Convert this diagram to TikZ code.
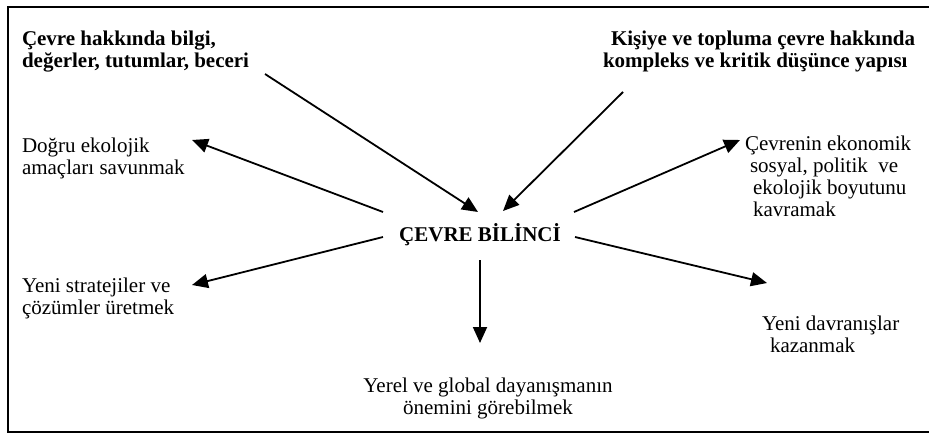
\documentclass[tikz,border=0pt]{standalone}
\usepackage{fontspec}
\setmainfont{Liberation Serif}
\usetikzlibrary{arrows.meta}
\begin{document}
\begin{tikzpicture}[x=1pt,y=-1pt,
  txt/.style={inner sep=0pt,outer sep=0pt,font=\fontsize{21}{22}\selectfont,align=left},
  btxt/.style={txt,font=\fontsize{21}{22}\selectfont\bfseries},
  arr/.style={line width=1.8pt,-{Triangle[length=16pt,width=14pt]}},
  frame/.style={line width=2.3pt}]
\useasboundingbox (0,0) rectangle (929,434);
\draw[frame] (929,7) -- (8,7) -- (8,432) -- (929,432);
% texts (base anchor = baseline of the last line)
\node[btxt,anchor=base west] (k1) at (22,67) {Çevre hakkında bilgi,\\değerler, tutumlar, beceri};
\node[btxt,anchor=base west] (k2) at (603,67) {\hspace*{8pt}Kişiye ve topluma çevre hakkında\\kompleks ve kritik düşünce yapısı};
\node[txt,anchor=base west] (d1) at (22,174) {Doğru ekolojik\\amaçları savunmak};
\node[txt,anchor=base west] (d2) at (745,216) {Çevrenin ekonomik\\\hspace*{5pt}sosyal, politik\ \ ve\\\hspace*{8pt}ekolojik boyutunu\\\hspace*{8pt}kavramak};
\node[btxt,anchor=base] (c) at (480,241) {ÇEVRE BİLİNCİ};
\node[txt,anchor=base west] (d3) at (22,314) {Yeni stratejiler ve\\çözümler üretmek};
\node[txt,anchor=base west] (d4) at (762,352) {Yeni davranışlar\\\hspace*{8pt}kazanmak};
\node[txt,align=center,anchor=base] (d5) at (488,414) {Yerel ve global dayanışmanın\\önemini görebilmek};
% arrow ends
\coordinate (t1) at (265,74);  \coordinate (h1) at (478,212);
\coordinate (t2) at (623,92);  \coordinate (h2) at (503,211);
\coordinate (t3) at (383,212); \coordinate (h3) at (192,140);
\coordinate (t4) at (574,212); \coordinate (h4) at (740,140);
\coordinate (t5) at (383,237); \coordinate (h5) at (192,285);
\coordinate (t6) at (575,237); \coordinate (h6) at (767,283);
\coordinate (t7) at (480,260); \coordinate (h7) at (480,343);
\draw[arr] (t1) -- (h1);
\draw[arr] (t2) -- (h2);
\draw[arr] (t3) -- (h3);
\draw[arr] (t4) -- (h4);
\draw[arr] (t5) -- (h5);
\draw[arr] (t6) -- (h6);
\draw[arr] (t7) -- (h7);
\end{tikzpicture}
\end{document}
